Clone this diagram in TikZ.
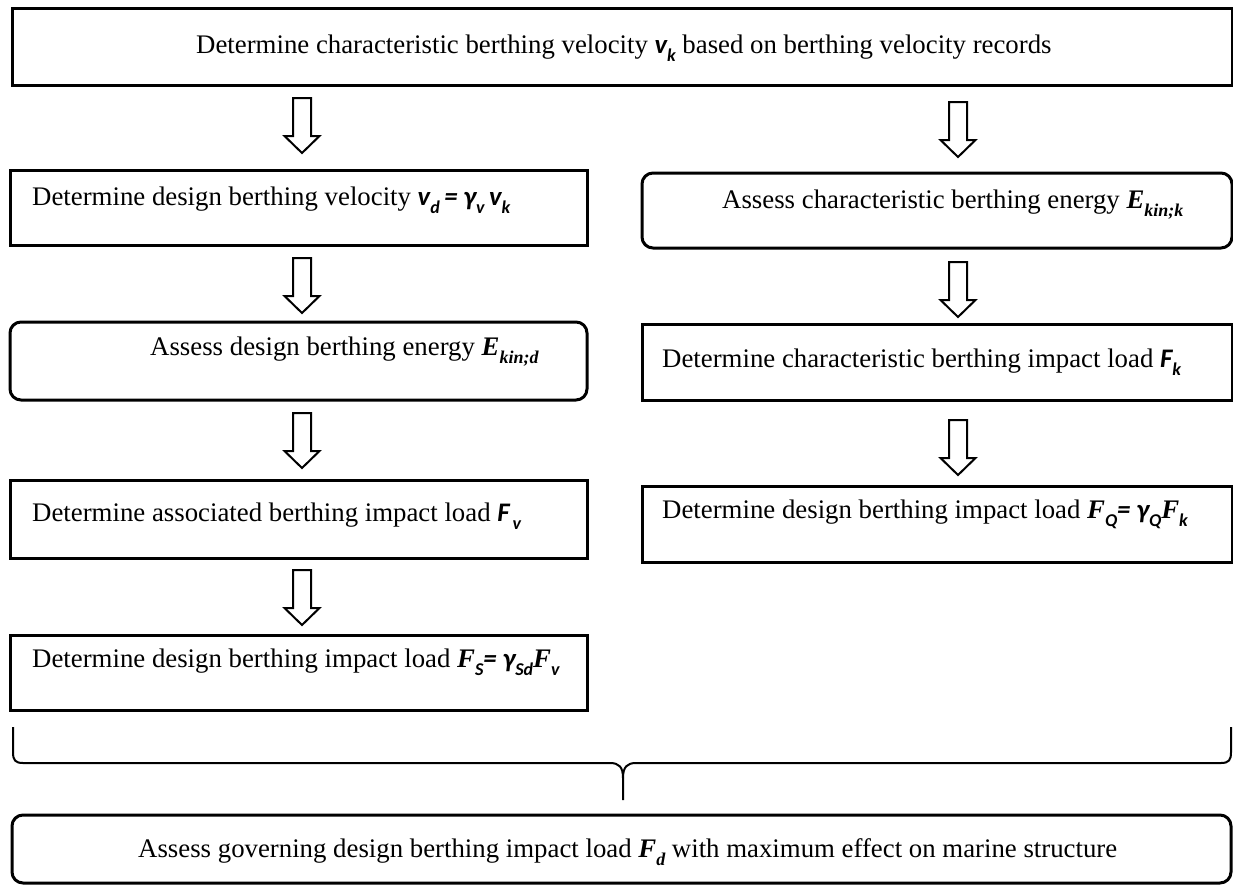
\documentclass[tikz,border=0pt]{standalone}
\usepackage{fontspec}
\setmainfont{Liberation Serif}
\newfontfamily\calib{Carlito}
\newcommand\cv[1]{{\calib\bfseries\itshape #1}}
\newcommand\tv[1]{{\bfseries\itshape #1}}
\newcommand\sbs[1]{\raisebox{-0.32em}{\fontsize{18}{18}\selectfont\calib\bfseries\itshape #1}}
\newcommand\tsbs[1]{\raisebox{-0.32em}{\fontsize{18}{18}\selectfont\bfseries\itshape #1}}
\tikzset{
  boxsq/.style={draw, line width=3pt, rectangle, inner sep=0pt},
  boxrd/.style={draw, line width=3pt, rectangle, rounded corners=11pt, inner sep=0pt},
  lbl/.style={anchor=base west, inner sep=0pt, font=\fontsize{26.8}{31}\selectfont},
  pics/barrow/.style={code={
    \draw[line width=2pt, line join=miter] (-9,0) -- (-9,38) -- (-17.5,38) -- (0,55) -- (17.5,38) -- (9,38) -- (9,0) -- cycle;
  }}
}
\begin{document}
\begin{tikzpicture}[x=1pt,y=-1pt]
\useasboundingbox (0,0) rectangle (1233,886);
% boxes
\node[boxsq, minimum width=1220pt, minimum height=77pt] (top) at (622,46.5) {};
\node[boxsq, minimum width=577pt, minimum height=75pt] (l1) at (298.5,207.5) {};
\node[boxrd, minimum width=577pt, minimum height=78pt] (l2) at (298.5,361) {};
\node[boxsq, minimum width=577pt, minimum height=78pt] (l3) at (298.5,519) {};
\node[boxsq, minimum width=577pt, minimum height=75pt] (l4) at (298.5,672.5) {};
\node[boxrd, minimum width=590pt, minimum height=75pt] (r1) at (937,210.5) {};
\node[boxsq, minimum width=590pt, minimum height=76pt] (r2) at (937,362) {};
\node[boxsq, minimum width=590pt, minimum height=76pt] (r3) at (937,524) {};
\node[boxrd, minimum width=1219pt, minimum height=68pt] (bot) at (621.5,849) {};
% texts
\node[lbl] (ttop) at (196,53) {Determine characteristic berthing velocity \cv{v}\sbs{k} based on berthing velocity records};
\node[lbl] (tl1) at (32,205) {Determine design berthing velocity \cv{v}\sbs{d}\cv{\,= γ}\sbs{v}\,\cv{v}\sbs{k}};
\node[lbl] (tl2) at (150,355) {Assess design berthing energy \tv{E}\tsbs{kin;d}};
\node[lbl] (tl3) at (32,521) {Determine associated berthing impact load \cv{F}\sbs{\,v}};
\node[lbl] (tl4) at (32,667) {Determine design berthing impact load \tv{F}\sbs{S}\cv{= γ}\sbs{Sd}\tv{F}\sbs{v}};
\node[lbl] (tr1) at (722,208) {Assess characteristic berthing energy \tv{E}\tsbs{kin;k}};
\node[lbl] (tr2) at (662,367) {Determine characteristic berthing impact load \cv{F}\sbs{k}};
\node[lbl] (tr3) at (662,518) {Determine design berthing impact load \tv{F}\sbs{Q}\cv{= γ}\sbs{Q}\tv{F}\sbs{k}};
\node[lbl] (tbot) at (138,857) {Assess governing design berthing impact load \tv{F}\tsbs{d} with maximum effect on marine structure};
% block arrows
\pic at (302,98) {barrow};
\pic at (958,102) {barrow};
\pic at (302,258) {barrow};
\pic at (302,413) {barrow};
\pic at (302,570) {barrow};
\pic at (958,262) {barrow};
\pic at (958,420) {barrow};
% brace
\coordinate (bl) at (13,727);
\coordinate (br) at (1231,727);
\coordinate (bt) at (623,800);
\draw[line width=2pt]
  (bl) -- (13,752) .. controls (13,760) and (15,763) .. (23,763) -- (610,763)
  .. controls (619,763) and (623,767) .. (623,778) -- (bt);
\draw[line width=2pt]
  (br) -- (1231,752) .. controls (1231,760) and (1229,763) .. (1221,763) -- (636,763)
  .. controls (627,763) and (623,767) .. (623,778);
\end{tikzpicture}
\end{document}
